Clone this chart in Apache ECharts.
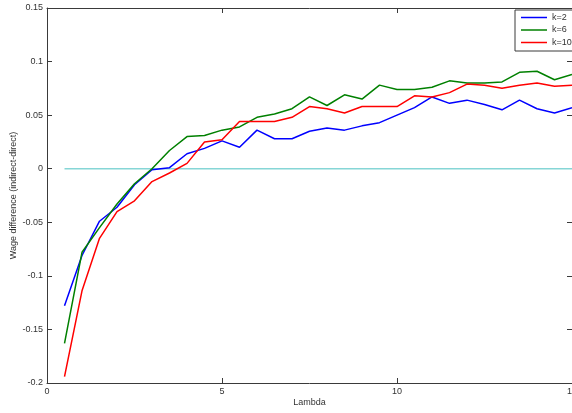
<!DOCTYPE html>
<html>
<head>
<meta charset="utf-8">
<script src="https://cdn.jsdelivr.net/npm/echarts@6/dist/echarts.min.js"></script>
<style>html,body{margin:0;padding:0;background:#fff;}#c{width:572px;height:413px;}</style>
</head>
<body>
<div id="c"></div>
<script>
const lambda = [0.5,1,1.5,2,2.5,3,3.5,4,4.5,5,5.5,6,6.5,7,7.5,8,8.5,9,9.5,10,10.5,11,11.5,12,12.5,13,13.5,14,14.5,15];
const k2 = [-0.128,-0.081,-0.049,-0.036,-0.015,-0.001,0.001,0.014,0.019,0.026,0.020,0.036,0.028,0.028,0.035,0.038,0.036,0.040,0.043,0.050,0.057,0.067,0.061,0.064,0.060,0.055,0.064,0.056,0.052,0.057];
const k6 = [-0.163,-0.078,-0.055,-0.033,-0.014,0.000,0.017,0.030,0.031,0.036,0.039,0.048,0.051,0.056,0.067,0.059,0.069,0.065,0.078,0.074,0.074,0.076,0.082,0.080,0.080,0.081,0.090,0.091,0.083,0.088];
const k10 = [-0.194,-0.114,-0.065,-0.040,-0.030,-0.012,-0.004,0.005,0.025,0.027,0.044,0.044,0.044,0.048,0.058,0.056,0.052,0.058,0.058,0.058,0.068,0.067,0.071,0.079,0.078,0.075,0.078,0.080,0.077,0.078];
const zeroLine = [0,0,0,0,0,0,0,0,0,0,0,0,0,0,0,0,0,0,0,0,0,0,0,0,0,0,0,0,0,0];
const seriesNames = ['k=2','k=6','k=10'];
const xLabel = 'Lambda';
const yLabel = 'Wage difference (indirect-direct)';

const pairs = arr => lambda.map((x,i)=>[x,arr[i]]);
const axisColor = '#3a3a3a';
const font = 'Liberation Sans, Arial, sans-serif';
const chart = echarts.init(document.getElementById('c'), null, {renderer:'canvas'});
const baseX = {type:'value', min:0, max:15, interval:5,
  axisLine:{show:true, onZero:false, lineStyle:{color:axisColor, width:1}},
  axisTick:{show:true, inside:true, length:5, lineStyle:{color:axisColor}},
  splitLine:{show:false}};
const baseY = {type:'value', min:-0.2, max:0.15, interval:0.05,
  axisLine:{show:true, onZero:false, lineStyle:{color:axisColor, width:1}},
  axisTick:{show:true, inside:true, length:5, lineStyle:{color:axisColor}},
  splitLine:{show:false}};
chart.setOption({
  animation:false,
  backgroundColor:'#fff',
  grid:{left:47, right:0, top:8, bottom:30, containLabel:false, outerBoundsMode:'none'},
  xAxis:[
    Object.assign({}, baseX, {position:'bottom', name:xLabel, nameLocation:'middle', nameGap:15,
      nameMoveOverlap:false,
      nameTextStyle:{fontFamily:font, fontSize:9, color:'#333'},
      axisLabel:{fontFamily:font, fontSize:9, color:'#333', margin:4}}),
    Object.assign({}, baseX, {position:'top', axisLabel:{show:false}})
  ],
  yAxis:[
    Object.assign({}, baseY, {position:'left', name:yLabel, nameLocation:'middle', nameGap:29,
      nameMoveOverlap:false,
      nameTextStyle:{fontFamily:font, fontSize:9, color:'#333'},
      axisLabel:{fontFamily:font, fontSize:9, color:'#333', margin:4}}),
    Object.assign({}, baseY, {position:'right', axisLabel:{show:false}})
  ],
  legend:{
    data:seriesNames, orient:'vertical', left:515, top:10,
    icon:'rect', itemWidth:26, itemHeight:1.5, itemGap:1.5,
    padding:[2,6,3,6],
    backgroundColor:'#fff', borderColor:axisColor, borderWidth:1,
    textStyle:{fontFamily:font, fontSize:9, color:'#333', lineHeight:11}
  },
  series:[
    {name:'zero', type:'line', data:pairs(zeroLine), symbol:'none', lineStyle:{color:'#86d6d6', width:1.6}, itemStyle:{color:'#86d6d6'}, silent:true},
    {name:seriesNames[0], type:'line', data:pairs(k2), symbol:'none', lineStyle:{color:'#0000ff', width:1.5}, itemStyle:{color:'#0000ff'}},
    {name:seriesNames[1], type:'line', data:pairs(k6), symbol:'none', lineStyle:{color:'#008000', width:1.5}, itemStyle:{color:'#008000'}},
    {name:seriesNames[2], type:'line', data:pairs(k10), symbol:'none', lineStyle:{color:'#ff0000', width:1.5}, itemStyle:{color:'#ff0000'}}
  ]
});
</script>
</body>
</html>
